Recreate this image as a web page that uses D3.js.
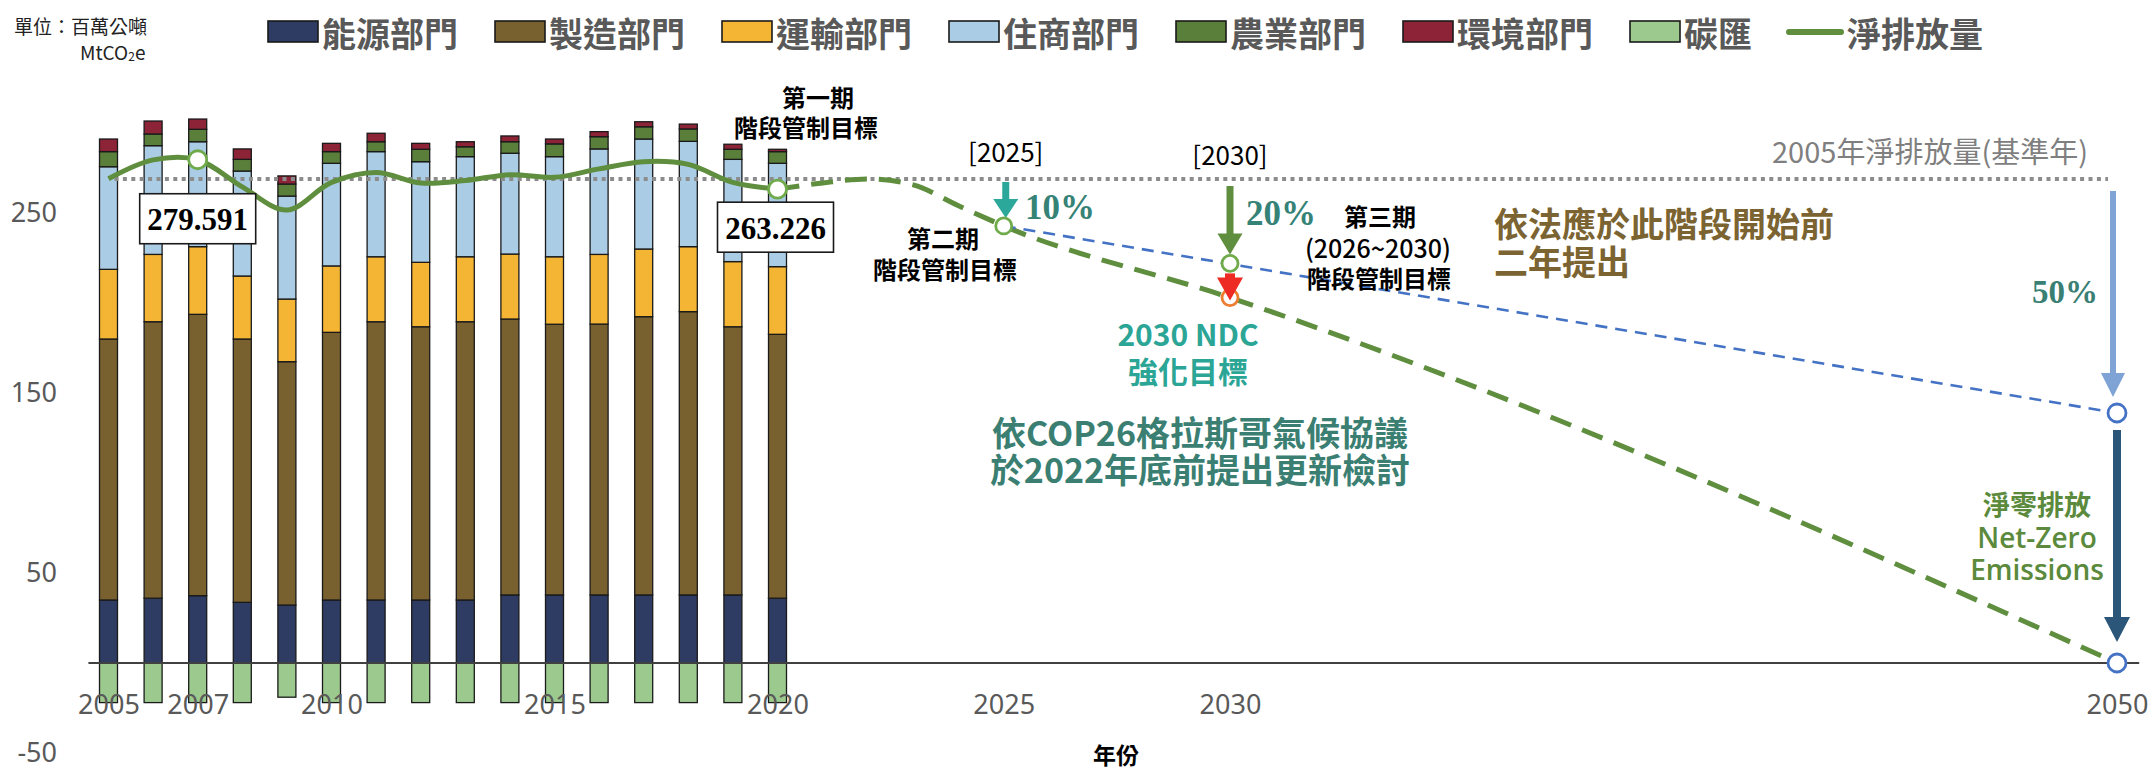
<!DOCTYPE html>
<html>
<head>
<meta charset="utf-8">
<script src="https://cdn.jsdelivr.net/npm/d3@7"></script>
<style>
  body { margin: 0; background: #fff; }
  svg { display: block; }
</style>
</head>
<body>
<svg id="chart"></svg>
<script>
// ---- data (MtCO2e) ----
var years = [2005, 2006, 2007, 2008, 2009, 2010, 2011, 2012, 2013, 2014, 2015, 2016, 2017, 2018, 2019, 2020];
var energy        = [35, 36, 37.4, 33.7, 32.2, 35, 35, 35, 35, 37.8, 37.8, 37.8, 37.8, 37.8, 37.8, 36];
var manufacturing = [145, 153.6, 156.3, 146.3, 135.2, 148.7, 154.6, 151.8, 154.6, 153.3, 150.4, 150.5, 154.6, 157.4, 149, 146.6];
var transport     = [38.7, 37.4, 37.6, 35, 34.8, 36.9, 36.1, 35.8, 36.1, 36.1, 37.5, 38.7, 37.6, 36.1, 36.2, 37.6];
var residential   = [57, 60.4, 58.3, 58.3, 57.2, 57, 58.4, 55.9, 55.6, 56, 55.6, 58.6, 61.1, 58.5, 56.8, 57.4];
var agriculture   = [8.4, 6.5, 6.9, 6.5, 6.7, 6.5, 5.5, 6.9, 5.5, 6.4, 7.1, 6.8, 6.8, 6.9, 5.6, 6.5];
var environment   = [7, 7.2, 5.7, 5.8, 4.5, 4.6, 4.7, 3.3, 2.8, 3.2, 2.7, 2.8, 2.8, 2.7, 2.8, 1.3];
var sink          = [-22, -22, -22, -22, -19, -22, -22, -22, -22, -22, -22, -22, -22, -22, -22, -22];
var netEmission   = [269, 279.5, 279.591, 264.5, 251.7, 267, 272.5, 266.7, 268, 271.3, 269.8, 274.5, 278.5, 277, 267, 263.226];

var labelYears = [2007, 2020];
var baseValue = 268.9;           // 2005 net emission (base year)

// projected path and targets
var projYears  = [2020, 2021, 2022, 2023, 2024, 2025, 2030, 2050];
var projValues = [263.226, 266.7, 268.9, 265.6, 254, 242.8, 203, 0];
var targetYears  = [2025, 2050];
var targetValues = [242.8, 138.9];
var stageTarget2030 = 222;
var ndcTarget2030 = 203;

var sectorKeys  = ["energy", "manufacturing", "transport", "residential", "agriculture", "environment"];
var sectorNames = ["能源部門", "製造部門", "運輸部門", "住商部門", "農業部門", "環境部門"];
var sinkName = "碳匯";
var netName = "淨排放量";
var xTicks = [2005, 2007, 2010, 2015, 2020, 2025, 2030, 2050];
var yTicks = [-50, 50, 150, 250];

var sectorColors = ["#2e3b63", "#78602f", "#f4b534", "#abcce5", "#5a7f3a", "#8c2337"];
var sinkColor = "#9cc98d";
var netColor = "#5e8e3e";

var W = 2155, H = 771;
var CJK = "'Noto Sans CJK TC','Noto Sans',sans-serif";
var SERIF = "'Liberation Serif','DejaVu Serif',serif";
var LATIN = "'Open Sans','Noto Sans',sans-serif";

var svg = d3.select("#chart").attr("width", W).attr("height", H)
    .style("font-family", CJK);

// scales
var x = d3.scaleLinear().domain([2005, 2020, 2030, 2050]).range([108.5, 777.5, 1230, 2117]);
var y = d3.scaleLinear().domain([0, 250]).range([663, 213]);
var barW = 18;

// stacked bars
var rows = years.map(function(yr, i) {
  return { year: yr, energy: energy[i], manufacturing: manufacturing[i], transport: transport[i],
           residential: residential[i], agriculture: agriculture[i], environment: environment[i] };
});
var stacked = d3.stack().keys(sectorKeys)(rows);

svg.append("g").selectAll("g")
  .data(stacked)
  .join("g")
    .attr("fill", function(d, i) { return sectorColors[i]; })
  .selectAll("rect")
  .data(function(d) { return d; })
  .join("rect")
    .attr("x", function(d) { return x(d.data.year) - barW / 2; })
    .attr("y", function(d) { return y(d[1]); })
    .attr("width", barW)
    .attr("height", function(d) { return y(d[0]) - y(d[1]); })
    .attr("stroke", "#1a1a1a")
    .attr("stroke-width", 1.3);

// carbon sink (negative)
svg.append("g").selectAll("rect")
  .data(years)
  .join("rect")
    .attr("x", function(d) { return x(d) - barW / 2; })
    .attr("y", y(0))
    .attr("width", barW)
    .attr("height", function(d, i) { return y(sink[i]) - y(0); })
    .attr("fill", sinkColor)
    .attr("stroke", "#1a1a1a")
    .attr("stroke-width", 1.3);

// zero line
svg.append("line")
  .attr("x1", x(2004.55)).attr("x2", x(2050.5))
  .attr("y1", y(0)).attr("y2", y(0))
  .attr("stroke", "#404040").attr("stroke-width", 2);

// axes
var yAxis = svg.append("g")
  .attr("transform", "translate(66,0)")
  .call(d3.axisLeft(y).tickValues(yTicks).tickFormat(function(d) { return String(d); })
        .tickSize(0).tickPadding(9));
yAxis.select(".domain").remove();
yAxis.attr("font-size", 27).attr("font-family", "'Noto Sans',sans-serif")
  .selectAll("text").attr("fill", "#595959");

var xAxis = svg.append("g")
  .attr("transform", "translate(0," + y(0) + ")")
  .call(d3.axisBottom(x).tickValues(xTicks).tickFormat(d3.format("d")).tickSize(0).tickPadding(32));
xAxis.select(".domain").remove();
xAxis.attr("font-size", 27).attr("font-family", "'Noto Sans',sans-serif")
  .selectAll("text").attr("fill", "#595959");

// 2005 base level (dotted)
svg.append("line")
  .attr("x1", x(2005) + 6).attr("x2", x(2050) - 9)
  .attr("y1", y(baseValue)).attr("y2", y(baseValue))
  .attr("stroke", "#8c8c8c").attr("stroke-width", 4)
  .attr("stroke-dasharray", "4 4.4");

// net emission line
var netLine = d3.line()
  .x(function(d) { return x(d[0]); })
  .y(function(d) { return y(d[1]); })
  .curve(d3.curveCatmullRom.alpha(0.5));

svg.append("path")
  .datum(years.map(function(yr, i) { return [yr, netEmission[i]]; }))
  .attr("d", netLine)
  .attr("fill", "none")
  .attr("stroke", netColor)
  .attr("stroke-width", 5);

// projected path (dashed)
var projLine = d3.line()
  .x(function(d) { return x(d[0]); })
  .y(function(d) { return y(d[1]); })
  .curve(d3.curveMonotoneX);

svg.append("path")
  .datum(projYears.map(function(yr, i) { return [yr, projValues[i]]; }))
  .attr("d", projLine)
  .attr("fill", "none")
  .attr("stroke", netColor)
  .attr("stroke-width", 5)
  .attr("stroke-dasharray", "22 12");

// stage target path (blue dashed)
svg.append("path")
  .datum(targetYears.map(function(yr, i) { return [yr, targetValues[i]]; }))
  .attr("d", d3.line().x(function(d) { return x(d[0]); }).y(function(d) { return y(d[1]); }))
  .attr("fill", "none")
  .attr("stroke", "#4472c4")
  .attr("stroke-width", 2.6)
  .attr("stroke-dasharray", "12 8");

// arrows
function arrow(xp, y0, y1, color, shaft, headW, headL) {
  svg.append("line")
    .attr("x1", xp).attr("x2", xp)
    .attr("y1", y0).attr("y2", y1 - headL + 1)
    .attr("stroke", color).attr("stroke-width", shaft);
  svg.append("path")
    .attr("d", "M" + (xp - headW / 2) + "," + (y1 - headL) + "L" + (xp + headW / 2) + "," + (y1 - headL) + "L" + xp + "," + y1 + "Z")
    .attr("fill", color);
}
arrow(x(2025) + 2, y(baseValue) + 3, y(targetValues[0]) - 8, "#2ba89a", 7, 25, 19);
arrow(x(2030), y(baseValue) + 7, y(stageTarget2030) - 9, "#5e8e3e", 7, 25, 21);
arrow(x(2050) - 4, y(baseValue) + 12, y(targetValues[1]) - 16, "#7fa3d5", 6, 24, 24);
arrow(x(2050), y(targetValues[1]) + 17, y(0) - 21, "#2b5579", 8, 26, 25);

// markers
function marker(xp, yp, color, r) {
  svg.append("circle")
    .attr("cx", xp).attr("cy", yp).attr("r", r)
    .attr("fill", "#fff").attr("stroke", color).attr("stroke-width", 2.8);
}
labelYears.forEach(function(yr) {
  marker(x(yr), y(netEmission[years.indexOf(yr)]), "#6fab4b", 9);
});
marker(x(2025), y(targetValues[0]), "#6fab4b", 8);
marker(x(2030), y(stageTarget2030), "#6fab4b", 8);
marker(x(2030), y(ndcTarget2030), "#ed7d31", 8);
arrow(x(2030), y(stageTarget2030) + 10, y(ndcTarget2030) + 3, "#ee2a24", 10, 26, 23);
marker(x(2050), y(targetValues[1]), "#4472c4", 9);
marker(x(2050), y(0), "#4472c4", 9);

// value label boxes
function valueBox(yr, dy, dx) {
  var v = netEmission[years.indexOf(yr)];
  var cx = x(yr) + dx, cy = y(v) + dy;
  svg.append("rect")
    .attr("x", cx - 58).attr("y", cy - 25).attr("width", 116).attr("height", 50)
    .attr("fill", "#fff").attr("stroke", "#1a1a1a").attr("stroke-width", 1.6);
  svg.append("text")
    .attr("x", cx).attr("y", cy + 1)
    .attr("text-anchor", "middle").attr("dominant-baseline", "central")
    .attr("font-family", SERIF).attr("font-weight", "bold").attr("font-size", 31)
    .attr("fill", "#000")
    .text(d3.format(".3f")(v));
}
valueBox(2007, 59, 0);
valueBox(2020, 38, -2);

// text helpers
function label(str, xp, yp, opt) {
  opt = opt || {};
  return svg.append("text")
    .attr("x", xp).attr("y", yp)
    .attr("text-anchor", opt.anchor || "middle")
    .attr("dominant-baseline", "central")
    .attr("font-size", opt.size || 24)
    .attr("font-weight", opt.weight || "normal")
    .attr("font-family", opt.family || CJK)
    .attr("fill", opt.color || "#000")
    .text(str);
}
// several lines in one text element; each line: [text, x, y, extra attrs]
function block(lines, opt) {
  opt = opt || {};
  var t = svg.append("text")
    .attr("text-anchor", opt.anchor || "middle")
    .attr("dominant-baseline", "central")
    .attr("font-size", opt.size || 24)
    .attr("font-weight", opt.weight || "normal")
    .attr("font-family", opt.family || CJK)
    .attr("fill", opt.color || "#000");
  lines.forEach(function(l) {
    var s = t.append("tspan").attr("x", l[1]).attr("y", l[2]).text(l[0]);
    var extra = l[3] || {};
    Object.keys(extra).forEach(function(k) { s.attr(k, extra[k]); });
  });
  return t;
}

// unit
var unit = block([["單位：百萬公噸", 14, 25], ["MtCO", 80, 51]], { anchor: "start", size: 19, color: "#222" });
unit.append("tspan").attr("font-size", 12).attr("y", 55).text("2");
unit.append("tspan").attr("y", 51).text("e");

// legend
var lx = 268;
sectorNames.concat([sinkName]).forEach(function(name, i) {
  svg.append("rect")
    .attr("x", lx).attr("y", 21).attr("width", 50).attr("height", 21)
    .attr("fill", i < sectorColors.length ? sectorColors[i] : sinkColor)
    .attr("stroke", "#1a1a1a").attr("stroke-width", 1.6);
  var t = label(name, lx + 54, 32, { anchor: "start", size: 34, weight: "bold", color: "#595959" });
  lx += 54 + t.node().getComputedTextLength() + 37;
});
svg.append("line")
  .attr("x1", lx).attr("x2", lx + 52)
  .attr("y1", 32).attr("y2", 32)
  .attr("stroke", netColor).attr("stroke-width", 6).attr("stroke-linecap", "round");
label(netName, lx + 58, 32, { anchor: "start", size: 34, weight: "bold", color: "#595959" });

// annotations
block([["第一期", 818, 96], ["階段管制目標", 806, 126]], { weight: "bold" });

label("[2025]", x(2025) + 2, 150, { size: 26 });
label("10%", 1025, 207, { anchor: "start", size: 35, weight: "bold", family: SERIF, color: "#358277" });
block([["第二期", 943, 237], ["階段管制目標", 945, 268]], { weight: "bold" });

label("[2030]", x(2030), 153, { size: 26 });
label("20%", 1246, 213, { anchor: "start", size: 35, weight: "bold", family: SERIF, color: "#358277" });
block([["第三期", 1380, 215], ["(2026~2030)", 1378, 247, { "font-weight": 500, "font-size": 25 }],
       ["階段管制目標", 1379, 277]], { weight: "bold" });

block([["2030 NDC", 1188, 333], ["強化目標", 1188, 370]], { size: 30, weight: "bold", color: "#2ba595" });

block([["依COP26格拉斯哥氣候協議", 1200, 431], ["於2022年底前提出更新檢討", 1200, 468]],
      { size: 34, weight: "bold", color: "#3b7f73" });

block([["依法應於此階段開始前", 1494, 222], ["二年提出", 1494, 260]],
      { anchor: "start", size: 34, weight: "bold", color: "#7b6431" });

label("2005年淨排放量(基準年)", 2088, 150, { anchor: "end", size: 29, color: "#7f7f7f" });
label("50%", 2098, 292, { anchor: "end", size: 33, weight: "bold", family: SERIF, color: "#3a7f74" });

block([["淨零排放", 2037, 503, { "font-size": 27 }],
       ["Net-Zero", 2037, 537, { "font-family": LATIN, "font-weight": 600 }],
       ["Emissions", 2037, 569, { "font-family": LATIN, "font-weight": 600 }]],
      { size: 28, weight: "bold", color: "#5b8a3c" });

label("年份", 1116, 754, { size: 23, weight: "bold" });
</script>
</body>
</html>
